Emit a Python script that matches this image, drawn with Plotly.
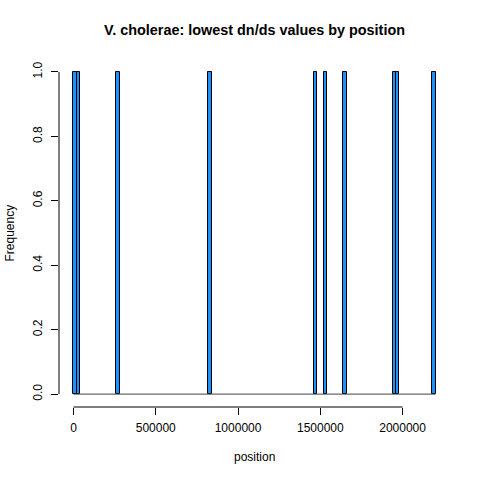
# V. cholerae histogram of the positions with the lowest dn/ds values,
# redrawn in Plotly to look like the base-R hist() output.

import plotly.graph_objects as go

# positions of the lowest dn/ds genes (one per bin)
POSITIONS = [8000, 31000, 270000, 829000, 1468000, 1531000,
             1652000, 1948000, 1971000, 2190000]

# histogram breaks (pretty() breaks, 20 kb wide)
BIN_START = 0
BIN_END = 2200000
BIN_SIZE = 20000

X_TICKS = [0, 500000, 1000000, 1500000, 2000000]
Y_TICKS = [0.0, 0.2, 0.4, 0.6, 0.8, 1.0]

TITLE = "V. cholerae: lowest dn/ds values by position"
XLAB = "position"
YLAB = "Frequency"

FONT = "Liberation Sans, Arial, Helvetica, sans-serif"

# R pads the axis ranges by 4% on each side
xpad = (BIN_END - BIN_START) * 0.04
ypad = (max(Y_TICKS) - min(Y_TICKS)) * 0.04

fig = go.Figure()

fig.add_trace(go.Histogram(
    x=POSITIONS,
    xbins=dict(start=BIN_START, end=BIN_END, size=BIN_SIZE),
    marker=dict(color="#1E90FF", line=dict(color="black", width=1)),
    hovertemplate="%{x}: %{y}<extra></extra>",
))

shapes = [
    # empty bins are drawn as a flat line along zero in R
    dict(type="line", xref="x", yref="y", x0=BIN_START, x1=BIN_END,
         y0=0, y1=0, line=dict(color="#444444", width=1)),
    # axis lines only span the tick range, like axis() in R
    dict(type="line", xref="x", yref="paper", x0=X_TICKS[0], x1=X_TICKS[-1],
         y0=0, y1=0, line=dict(color="black", width=1)),
    dict(type="line", xref="paper", yref="y", x0=0, x1=0,
         y0=Y_TICKS[0], y1=Y_TICKS[-1], line=dict(color="black", width=1)),
]

fig.update_layout(
    width=480,
    height=480,
    margin=dict(l=59, r=30, t=59, b=73),
    paper_bgcolor="white",
    plot_bgcolor="white",
    bargap=0,
    showlegend=False,
    font=dict(family=FONT, size=12, color="black"),
    title=dict(
        text="<b>" + TITLE + "</b>",
        x=0.5, xref="paper", xanchor="center",
        y=1 - 30 / 480, yref="container", yanchor="middle",
        font=dict(size=14.4, family=FONT),
    ),
    xaxis=dict(
        range=[BIN_START - xpad, BIN_END + xpad],
        tickvals=X_TICKS,
        tickformat="d",
        ticks="outside", ticklen=7, tickcolor="black",
        ticklabelstandoff=3,
        showgrid=False, zeroline=False, showline=False,
    ),
    yaxis=dict(
        range=[Y_TICKS[0] - ypad, Y_TICKS[-1] + ypad],
        tickvals=Y_TICKS,
        tickformat=".1f",
        tickangle=-90,
        ticks="outside", ticklen=7, tickcolor="black",
        ticklabelstandoff=4,
        showgrid=False, zeroline=False, showline=False,
    ),
    shapes=shapes,
    annotations=[
        dict(text=XLAB, xref="paper", yref="paper", x=0.5, y=0,
             yshift=-50, showarrow=False, xanchor="center", yanchor="middle",
             font=dict(size=12)),
        dict(text=YLAB, xref="paper", yref="paper", x=0, y=0.5,
             xshift=-49.5, showarrow=False, xanchor="center", yanchor="middle",
             textangle=-90, font=dict(size=12)),
    ],
)

# drop the browser's default 8px body margin so the chart sits at (0, 0)
fig.write_html(
    "out.html",
    config={"displayModeBar": False},
    post_script="document.body.style.margin = '0';",
)
